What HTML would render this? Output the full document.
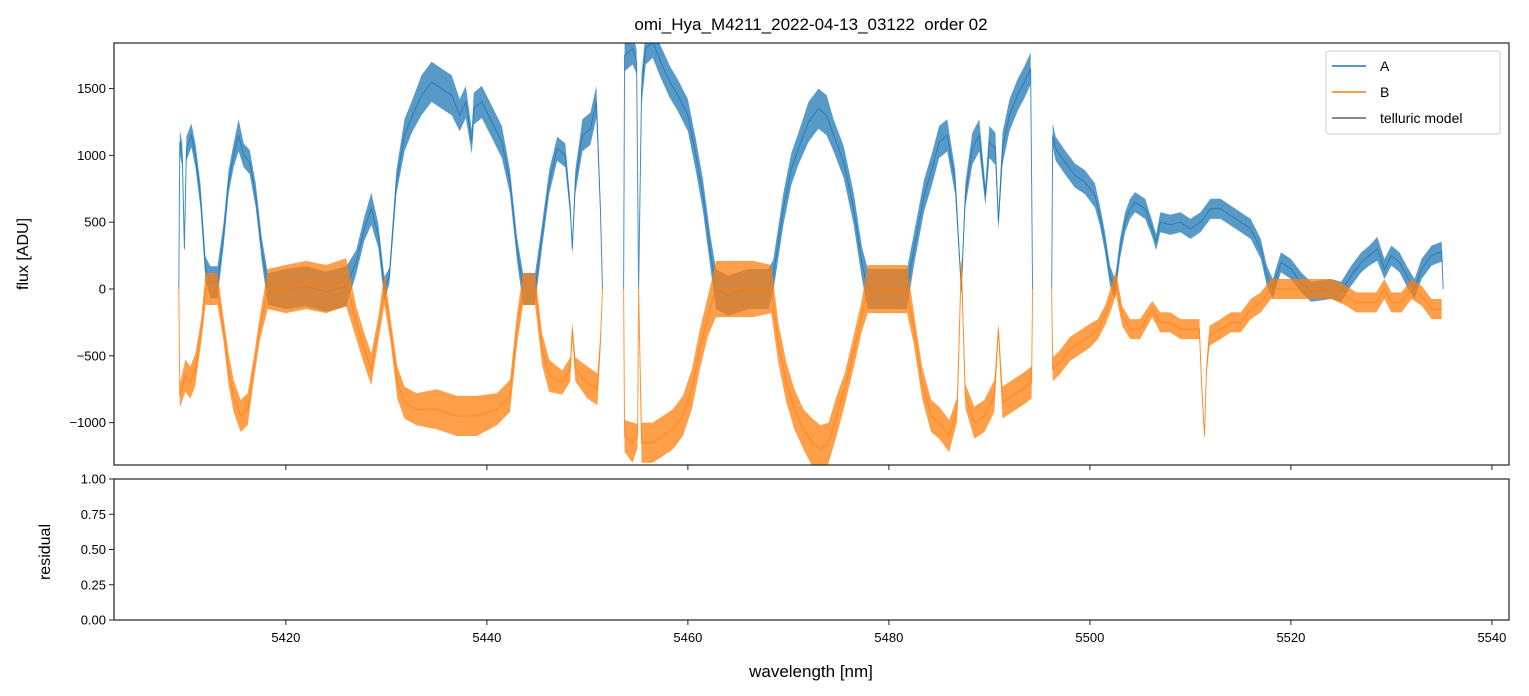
<!DOCTYPE html>
<html><head><meta charset="utf-8"><style>
body{margin:0;background:#fff}
svg{display:block;font-family:"Liberation Sans","DejaVu Sans",sans-serif}
</style></head><body>
<svg id="chart" width="1529" height="696" viewBox="0 0 1529 696" xmlns="http://www.w3.org/2000/svg">
<rect width="1529" height="696" fill="#fff"/>
<defs>
<clipPath id="clipTop"><rect x="114" y="43" width="1395" height="422"/></clipPath>
</defs>
<text x="811" y="30" text-anchor="middle" font-size="17">omi_Hya_M4211_2022-04-13_03122&#160; order 02</text>
<g id="series" clip-path="url(#clipTop)"></g>
<g id="axes"></g>
<g>
<rect x="1326" y="51" width="174" height="83" rx="3" fill="#fff" fill-opacity="0.8" stroke="#ccc"/>
<line x1="1332" y1="66" x2="1366" y2="66" stroke="#1f77b4" stroke-width="1.5"/>
<text x="1380" y="71" font-size="14">A</text>
<line x1="1332" y1="92" x2="1366" y2="92" stroke="#ff7f0e" stroke-width="1.5"/>
<text x="1380" y="97" font-size="14">B</text>
<line x1="1332" y1="118" x2="1366" y2="118" stroke="#666" stroke-width="1.5"/>
<text x="1380" y="123" font-size="14">telluric model</text>
</g>
<text transform="translate(28,254) rotate(-90)" text-anchor="middle" font-size="16">flux [ADU]</text>
<text transform="translate(50,552) rotate(-90)" text-anchor="middle" font-size="16">residual</text>
<text x="811" y="677" text-anchor="middle" font-size="17">wavelength [nm]</text>
</svg>
<script>
// [wavelength nm, flux ADU, scatter ADU]; null = detector gap
const specA = [
[5409.35,0,0],[5409.45,1100,60],[5409.7,1000,60],[5409.9,300,20],[5410.1,1050,60],[5410.6,1150,60],[5411.0,1000,60],[5411.5,700,60],[5412.0,150,60],[5412.5,50,80],[5413.2,50,80],[5413.8,400,60],[5414.3,800,60],[5414.8,1000,60],[5415.3,1150,80],[5415.8,1000,60],[5416.4,950,60],[5417.0,700,60],[5417.6,300,60],[5418.2,0,80],[5420,0,100],[5422,20,100],[5424,-20,100],[5426,20,100],[5427,200,60],[5427.8,450,60],[5428.5,600,80],[5429.2,400,60],[5429.8,0,60],[5430.3,100,40],[5431,800,60],[5431.8,1150,80],[5432.6,1300,80],[5433.5,1450,100],[5434.5,1550,100],[5435.5,1500,100],[5436.5,1450,100],[5437.3,1300,80],[5437.9,1400,80],[5438.5,1100,60],[5438.7,1350,80],[5439.5,1400,80],[5440.5,1250,80],[5441.5,1100,80],[5442.3,800,60],[5443,300,60],[5443.6,0,80],[5444.8,0,80],[5445.5,400,60],[5446.2,800,60],[5447,1050,60],[5447.8,1000,60],[5448.3,600,40],[5448.5,300,30],[5448.8,800,60],[5449.5,1150,80],[5450.3,1200,80],[5450.9,1400,80],[5451.3,600,40],[5451.5,0,0],
null,
[5453.6,0,0],[5453.7,1750,80],[5454.5,1800,80],[5454.9,1700,60],[5455.1,0,0],[5455.4,1500,80],[5455.8,1800,80],[5456.5,1850,80],[5457.3,1700,80],[5458.2,1550,80],[5459,1450,80],[5460,1300,80],[5460.8,1000,80],[5461.5,700,80],[5462.2,300,80],[5462.8,0,100],[5464,-50,100],[5466,0,100],[5468,0,100],[5468.5,100,80],[5469.5,600,80],[5470.3,900,80],[5471,1050,80],[5472,1250,100],[5473,1350,100],[5473.8,1300,100],[5474.5,1150,80],[5475.5,950,80],[5476.5,600,80],[5477.3,200,80],[5477.9,0,100],[5480,0,100],[5481.8,0,100],[5482.5,300,80],[5483.5,700,80],[5484.3,900,80],[5485,1100,80],[5485.8,1150,80],[5486.6,800,60],[5487.2,0,30],[5487.6,700,60],[5488.3,1050,80],[5489,1150,80],[5489.6,700,50],[5490,1100,80],[5490.6,1050,80],[5490.9,500,40],[5491.3,1050,80],[5492,1300,80],[5492.8,1450,80],[5493.5,1550,80],[5494.1,1650,80],[5494.3,0,0],
null,
[5496.2,0,0],[5496.3,1150,60],[5496.6,1050,60],[5497.5,950,60],[5498.5,850,60],[5499.5,800,60],[5500.5,700,60],[5501,550,50],[5501.5,350,50],[5502,100,50],[5502.5,0,50],[5503,300,50],[5503.5,500,50],[5504,600,50],[5504.5,650,50],[5505.5,600,50],[5506.2,450,40],[5506.6,350,40],[5507,500,50],[5508,480,50],[5509,500,50],[5510,450,50],[5511,500,50],[5512,600,50],[5513,600,50],[5514,550,50],[5515,500,50],[5516,450,50],[5517,300,50],[5517.6,100,50],[5518.2,0,50],[5519,200,50],[5520,150,50],[5521,50,50],[5522,-20,50],[5524,0,50],[5525,-20,50],[5526,100,50],[5527,200,50],[5527.8,250,50],[5528.6,300,60],[5529.3,150,50],[5530,250,50],[5530.8,200,50],[5531.5,100,50],[5532.3,0,50],[5533,150,50],[5534,250,50],[5535,280,50],[5535.15,0,0]
];
const specB = [
[5409.35,0,0],[5409.45,-800,60],[5410,-650,80],[5410.5,-700,80],[5411,-600,80],[5411.6,-300,60],[5412,0,80],[5413.2,0,80],[5413.8,-300,60],[5414.3,-600,80],[5414.8,-800,80],[5415.5,-950,80],[5416.2,-900,80],[5416.8,-600,60],[5417.4,-300,60],[5418.2,0,100],[5420,0,120],[5422,30,120],[5424,0,120],[5426,50,120],[5427,-250,80],[5427.8,-450,80],[5428.5,-600,80],[5429.2,-300,60],[5429.8,0,80],[5430.4,-300,60],[5431.1,-700,80],[5431.8,-850,80],[5433,-900,80],[5435,-900,100],[5437,-950,100],[5439,-950,100],[5441,-900,80],[5442.3,-800,80],[5443,-300,80],[5443.6,0,80],[5444.8,0,80],[5445.5,-450,80],[5446.2,-650,80],[5447.5,-700,60],[5448.3,-600,60],[5448.5,-300,40],[5448.8,-600,60],[5450,-700,80],[5451,-750,80],[5451.3,-400,40],[5451.5,0,0],
null,
[5453.6,0,0],[5453.7,-1100,80],[5454.5,-1150,100],[5455,-1100,60],[5455.1,0,0],[5455.4,-1150,100],[5456.5,-1150,100],[5457.5,-1100,100],[5458.5,-1050,100],[5459.5,-950,100],[5460.4,-750,100],[5461.2,-450,100],[5462,-200,100],[5462.8,0,140],[5464.5,0,140],[5466.5,0,140],[5468.3,0,120],[5469,-400,100],[5469.8,-700,100],[5470.6,-900,100],[5471.5,-1050,100],[5472.4,-1150,120],[5473.2,-1200,120],[5474,-1150,100],[5474.8,-950,100],[5475.6,-750,80],[5476.4,-500,80],[5477.3,-200,80],[5477.9,0,120],[5480,0,120],[5481.8,0,120],[5482.5,-300,80],[5483.3,-700,80],[5484.2,-950,80],[5485,-1000,80],[5486,-1100,80],[5486.8,-900,60],[5487.2,200,30],[5487.6,-800,60],[5488.5,-1000,80],[5489.5,-950,80],[5490.5,-800,80],[5490.9,-300,30],[5491.3,-850,80],[5492.3,-800,80],[5493.3,-750,80],[5494.2,-700,80],[5494.3,0,0],
null,
[5496.2,0,0],[5496.3,-600,60],[5497,-550,60],[5498,-450,60],[5499,-400,60],[5500,-350,60],[5500.8,-300,50],[5501.5,-200,50],[5502.2,-50,60],[5502.6,50,60],[5503.2,-200,50],[5504,-300,50],[5505,-300,50],[5506.2,-150,40],[5507,-250,50],[5508,-250,50],[5509,-300,50],[5510,-300,50],[5510.9,-300,50],[5511.1,-700,30],[5511.4,-1100,20],[5511.6,-600,30],[5511.9,-350,50],[5513,-300,50],[5514,-250,50],[5515,-250,50],[5516,-150,50],[5517,-100,50],[5518,0,50],[5520,0,50],[5522,0,50],[5524,0,50],[5525.5,-50,50],[5526.5,-100,50],[5527.5,-100,50],[5528.5,-100,50],[5529.3,0,50],[5530,-100,50],[5531,-100,50],[5532,0,50],[5533,-50,50],[5534,-150,50],[5535,-150,50]
];
const xTicks = [5420,5440,5460,5480,5500,5520,5540];
const yTicksTop = [-1000,-500,0,500,1000,1500];
const yTicksRes = [0,0.25,0.5,0.75,1.0];
const yTickLabelsRes = ["0.00","0.25","0.50","0.75","1.00"];

const NS = "http://www.w3.org/2000/svg";
const X0=114, X1=1509, WL0=5402.9, WL1=5541.7;
const TY0=43, TY1=465, F0=-1317, F1=1841;
const RY0=479, RY1=620;
const SCATTER_SCALE = 1.5;
const xs = w => X0 + (w-WL0)/(WL1-WL0)*(X1-X0);
const ys = v => TY1 - (v-F0)/(F1-F0)*(TY1-TY0);
const yr = v => RY1 - v*(RY1-RY0);

function mk(tag, attrs, parent){ const e=document.createElementNS(NS,tag); for(const k in attrs) e.setAttribute(k,attrs[k]); parent.appendChild(e); return e; }

function segments(spec){ const segs=[]; let cur=[]; spec.forEach(p=>{ if(p===null){ if(cur.length) segs.push(cur); cur=[]; } else cur.push(p); }); if(cur.length) segs.push(cur); return segs; }

const sg = document.getElementById('series');
function drawSeries(spec, color, key){
  segments(spec).forEach((seg,i)=>{
    const up = seg.map(p=>xs(p[0]).toFixed(1)+','+ys(p[1]+p[2]*SCATTER_SCALE).toFixed(1));
    const lo = seg.slice().reverse().map(p=>xs(p[0]).toFixed(1)+','+ys(p[1]-p[2]*SCATTER_SCALE).toFixed(1));
    const band = mk('polygon',{points:up.concat(lo).join(' '),fill:color,'fill-opacity':'0.75'},sg);
    
    
    const line = mk('polyline',{points:seg.map(p=>xs(p[0]).toFixed(1)+','+ys(p[1]).toFixed(1)).join(' '),fill:'none',stroke:color,'stroke-opacity':'0.8','stroke-width':'1'},sg);
    
    
  });
}
drawSeries(specA,'#1f77b4','series-a');
drawSeries(specB,'#ff7f0e','series-b');

const ax = document.getElementById('axes');
const f1 = mk('rect',{x:X0,y:TY0,width:X1-X0,height:TY1-TY0,fill:'none',stroke:'#222','stroke-width':'1.2'},ax);


const f2 = mk('rect',{x:X0,y:RY0,width:X1-X0,height:RY1-RY0,fill:'none',stroke:'#222','stroke-width':'1.2'},ax);


xTicks.forEach(t=>{
  const x=xs(t);
  mk('line',{x1:x,y1:TY1,x2:x,y2:TY1+5,stroke:'#222'},ax);
  mk('line',{x1:x,y1:RY1,x2:x,y2:RY1+5,stroke:'#222'},ax);
  const tx = mk('text',{x:x,y:RY1+22,'text-anchor':'middle','font-size':'13'},ax);
  
  
  tx.textContent=t;
});
yTicksTop.forEach(t=>{
  const y=ys(t);
  mk('line',{x1:X0-5,y1:y,x2:X0,y2:y,stroke:'#222'},ax);
  const tx = mk('text',{x:X0-8,y:y+4.5,'text-anchor':'end','font-size':'13'},ax);
  
  
  tx.textContent = t<0 ? '\u2212'+Math.abs(t) : String(t);
});
yTicksRes.forEach((t,i)=>{
  const y=yr(t);
  mk('line',{x1:X0-5,y1:y,x2:X0,y2:y,stroke:'#222'},ax);
  const tx = mk('text',{x:X0-8,y:y+4.5,'text-anchor':'end','font-size':'13'},ax);
  
  
  tx.textContent = yTickLabelsRes[i];
});
</script>
</body></html>
